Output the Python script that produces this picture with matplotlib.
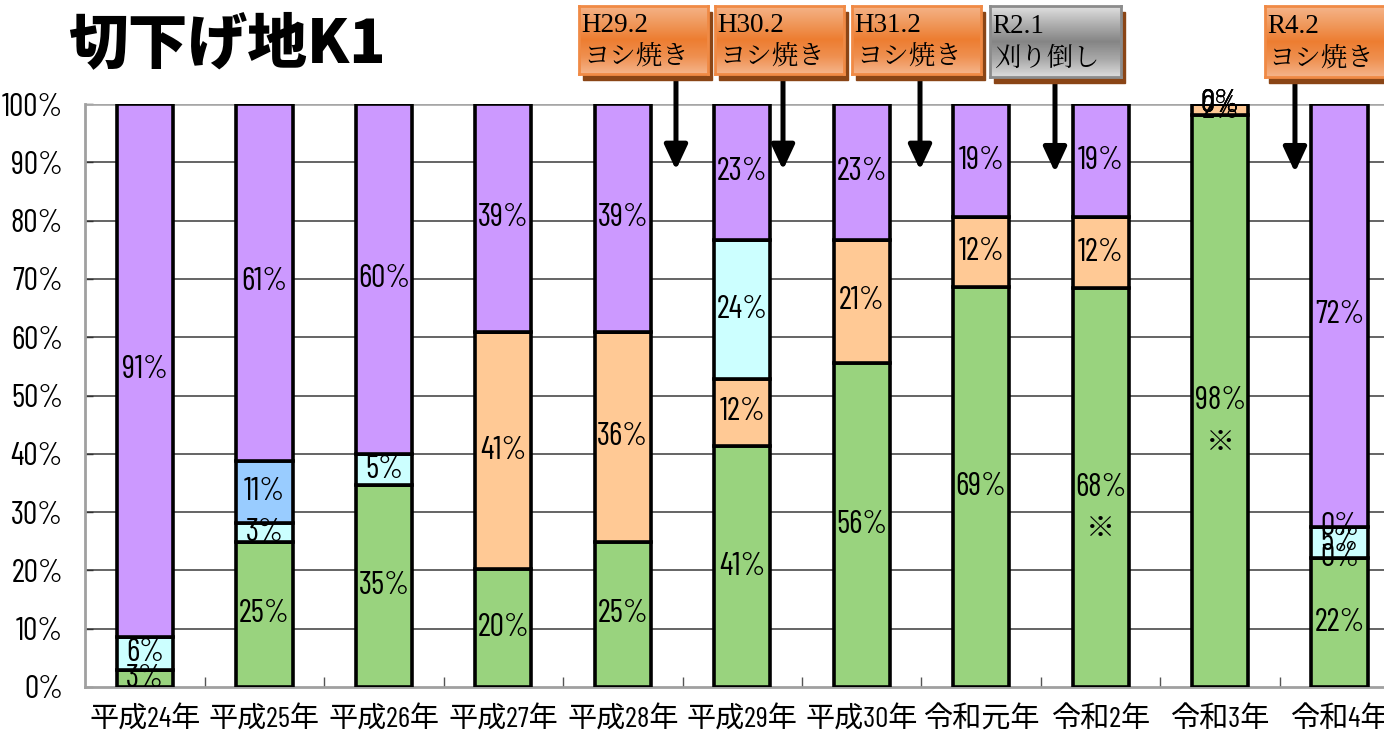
import numpy as np
import matplotlib
matplotlib.use("Agg")
import matplotlib.pyplot as plt
from matplotlib.patches import Rectangle
from matplotlib.colors import LinearSegmentedColormap

# ---------------- data ----------------
years = ["平成24年", "平成25年", "平成26年", "平成27年", "平成28年", "平成29年",
         "平成30年", "令和元年", "令和2年", "令和3年", "令和4年"]
nan = np.nan
green  = [2.9, 24.9, 34.6, 20.2, 24.9, 41.3, 55.6, 68.6, 68.4, 98.1, 22.1]
peach  = [nan, nan, nan, 40.7, 36.0, 11.6, 21.1, 12.0, 12.2, 1.9, 0.0]
cyan   = [5.7, 3.2, 5.4, nan, nan, 23.7, nan, nan, nan, 0.0, 5.4]
blue   = [nan, 10.7, nan, nan, nan, nan, nan, nan, nan, 0.0, 0.0]
purple = [91.4, 61.2, 60.0, 39.1, 39.1, 23.4, 23.3, 19.4, 19.4, 0.0, 72.5]
series = [green, peach, cyan, blue, purple]
colors = ["#99D37E", "#FFC995", "#CCFFFF", "#99CCFF", "#CC99FF"]
note_years = ["令和2年", "令和3年"]          # "※" marks

events = ["H29.2\nヨシ焼き", "H30.2\nヨシ焼き", "H31.2\nヨシ焼き", "R2.1\n刈り倒し", "R4.2\nヨシ焼き"]
event_kind = ["orange", "orange", "orange", "gray", "orange"]
yticks = [0, 10, 20, 30, 40, 50, 60, 70, 80, 90, 100]

# ---------------- figure ----------------
W, H = 1384, 742
fig = plt.figure(figsize=(W / 100, H / 100), dpi=100)

def fx(px):
    return px / W

def fy(py):
    return 1 - py / H

left_px, right_px, top_px, bot_px = 85.3, 85.3 + 11 * 119.45, 104, 687
ax = fig.add_axes([fx(left_px), fy(bot_px), fx(right_px - left_px), (bot_px - top_px) / H])

num_font = ["Barlow Condensed", "Roboto Condensed", "IBM Plex Sans Condensed", "DejaVu Sans"]
xlab_font = ["Barlow Condensed", "Noto Sans CJK JP", "DejaVu Sans"]
cjk_font = ["Noto Sans CJK JP", "DejaVu Sans"]
serif_font = ["Liberation Serif", "Noto Serif CJK JP", "Noto Sans CJK JP"]
mincho_font = ["Noto Serif CJK JP", "Noto Sans CJK JP"]

x = np.arange(len(years))
bottom = np.zeros(len(years))
for vals, col in zip(series, colors):
    v = np.array(vals, dtype=float)
    h = np.nan_to_num(v)
    ax.bar(x, h, bottom=bottom, width=0.47, color=col, edgecolor="black",
           linewidth=2.6, zorder=3)
    for i, val in enumerate(v):
        if not np.isnan(val):
            ax.text(x[i], bottom[i] + h[i] / 2, f"{val:.0f}%", ha="center", va="center",
                    fontsize=23, family=num_font, color="black", zorder=5)
    bottom = bottom + h

# "※" marks under the green labels
for yname in note_years:
    i = years.index(yname)
    ax.annotate("※", xy=(x[i], green[i] / 2), xytext=(0, -30), textcoords="offset points",
                ha="center", va="center", fontsize=21, family=cjk_font, zorder=5)

ax.set_xlim(-0.5, len(years) - 0.5)
ax.set_ylim(0, 100)
ax.set_yticks(yticks)
ax.set_yticklabels([f"{t}%" for t in yticks], fontsize=23, family=num_font)
ax.set_xticks(x)
ax.set_xticklabels(years, fontsize=21, family=xlab_font)
ax.set_xticks(x[:-1] + 0.5, minor=True)
ax.tick_params(axis="x", which="major", length=0, pad=14)
ax.tick_params(axis="x", which="minor", direction="in", length=7, color="#555555", width=1)
ax.tick_params(axis="y", direction="in", length=6, color="#333333", width=1, pad=16)

for t in yticks[1:-1]:
    ax.axhline(t, color="#3a3a3a", lw=1.1, zorder=1)
ax.axhline(100, color="#A6A6A6", lw=2.6, zorder=2)

for s in ["top", "right"]:
    ax.spines[s].set_visible(False)
ax.spines["left"].set_color("#A0A0A0")
ax.spines["left"].set_linewidth(2)
ax.spines["bottom"].set_color("#A0A0A0")
ax.spines["bottom"].set_linewidth(2)

# title
fig.text(fx(68), fy(44), "切下げ地K1", fontsize=43, fontweight=900,
         family=cjk_font, ha="left", va="center")

# ---------------- event boxes + arrows ----------------
box_px = [(579, 6, 129, 68), (715, 6, 129, 68), (852, 6, 129, 68),
          (990, 6, 131, 71), (1265, 6, 125, 71)]
arrow_x = [4.445, 5.341, 6.488, 7.618, 9.627]
arrow_tip = [88.7, 88.7, 88.7, 88.3, 88.3]

cm_orange = LinearSegmentedColormap.from_list(
    "o", ["#F5B48A", "#F09A5E", "#ED7D31", "#EF9050", "#F5B48A"])
cm_gray = LinearSegmentedColormap.from_list(
    "g", ["#E0E0E0", "#B0B0B0", "#858585", "#A8A8A8", "#DCDCDC"])
grad = np.linspace(0, 1, 100).reshape(-1, 1)

for (bx, by, bw, bh), label, kind in zip(box_px, events, event_kind):
    # shadow
    fig.patches.append(Rectangle((fx(bx + 4), fy(by + bh + 6)), fx(bw), bh / H,
                                 transform=fig.transFigure, color="#8A4516", zorder=5))
    bax = fig.add_axes([fx(bx), fy(by + bh), fx(bw), bh / H], zorder=6)
    bax.imshow(grad, aspect="auto", cmap=cm_orange if kind == "orange" else cm_gray,
               extent=(0, 1, 0, 1))
    bax.set_xticks([])
    bax.set_yticks([])
    for sp in bax.spines.values():
        sp.set_color("#F08A45" if kind == "orange" else "#8C8C8C")
        sp.set_linewidth(2)
    l1, l2 = label.split("\n")
    bax.text(0.02, 0.71, l1, transform=bax.transAxes, fontsize=19.5,
             family=serif_font, ha="left", va="center")
    bax.text(0.03, 0.26, l2, transform=bax.transAxes, fontsize=19,
             family=mincho_font, ha="left", va="center")

for ax_x, tip in zip(arrow_x, arrow_tip):
    ax.annotate("", xy=(ax_x, tip), xytext=(ax_x, 104.3),
                arrowprops=dict(arrowstyle="-|>,head_length=0.75,head_width=0.35",
                                lw=3.6, color="black", mutation_scale=20,
                                shrinkA=0, shrinkB=0),
                annotation_clip=False, zorder=7)

fig.savefig("out.png", dpi=100)
